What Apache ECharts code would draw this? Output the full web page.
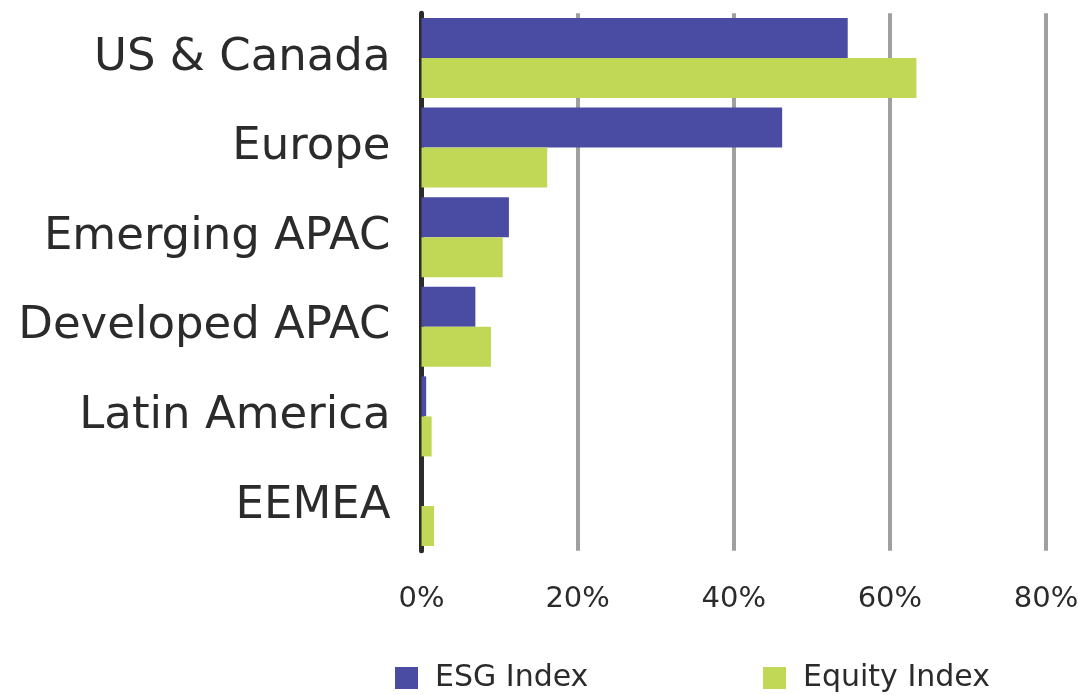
<!DOCTYPE html>
<html>
<head>
<meta charset="utf-8">
<script src="https://cdn.jsdelivr.net/npm/echarts@6/dist/echarts.min.js"></script>
<style>
  html, body { margin: 0; padding: 0; background: #fff; }
  #chart { width: 1078px; height: 695px; }
</style>
</head>
<body>
<div id="chart"></div>
<script>
const regions = ['US & Canada', 'Europe', 'Emerging APAC', 'Developed APAC', 'Latin America', 'EEMEA'];
const esgIndex = [54.6, 46.2, 11.2, 6.9, 0.6, 0];
const equityIndex = [63.4, 16.1, 10.4, 8.9, 1.3, 1.6];
const xTicks = [0, 20, 40, 60, 80];

const FONT = 'DejaVu Sans';
const TEXT = '#2b2b2b';

const chart = echarts.init(document.getElementById('chart'));

// two legends so each item sits where the original puts it
const legendBase = {
  top: 'auto',
  bottom: 2,
  itemWidth: 23,
  itemHeight: 22,
  icon: 'rect',
  padding: 0,
  textStyle: { fontSize: 30, color: TEXT, fontFamily: FONT, padding: [0, 0, 0, 12] }
};

chart.setOption({
  animation: false,
  textStyle: { fontFamily: FONT },
  legend: [
    Object.assign({}, legendBase, { data: ['ESG Index'], left: 395 }),
    Object.assign({}, legendBase, { data: ['Equity Index'], left: 763 })
  ],
  grid: {
    left: 421.5,
    right: 32,
    top: 13.2,
    bottom: 144.2,
    outerBoundsMode: 'none'
  },
  xAxis: {
    type: 'value',
    min: xTicks[0],
    max: xTicks[xTicks.length - 1],
    interval: 20,
    axisLine: { show: false },
    axisTick: { show: false },
    axisLabel: {
      formatter: (v) => v + '%',
      fontSize: 29,
      color: TEXT,
      margin: 34
    },
    splitLine: {
      lineStyle: { color: '#a0a0a0', width: 4 }
    }
  },
  yAxis: {
    type: 'category',
    inverse: true,
    data: regions,
    axisTick: { show: false },
    axisLine: { lineStyle: { color: TEXT, width: 5 } },
    axisLabel: {
      fontSize: 45,
      color: TEXT,
      margin: 31
    }
  },
  series: [
    {
      name: 'ESG Index',
      type: 'bar',
      data: esgIndex,
      itemStyle: { color: '#4a4ca3' },
      barGap: '0%',
      barCategoryGap: '10.7%'
    },
    {
      name: 'Equity Index',
      type: 'bar',
      data: equityIndex,
      itemStyle: { color: '#c1d756' },
      barGap: '0%',
      barCategoryGap: '10.7%'
    }
  ]
});
</script>
</body>
</html>
